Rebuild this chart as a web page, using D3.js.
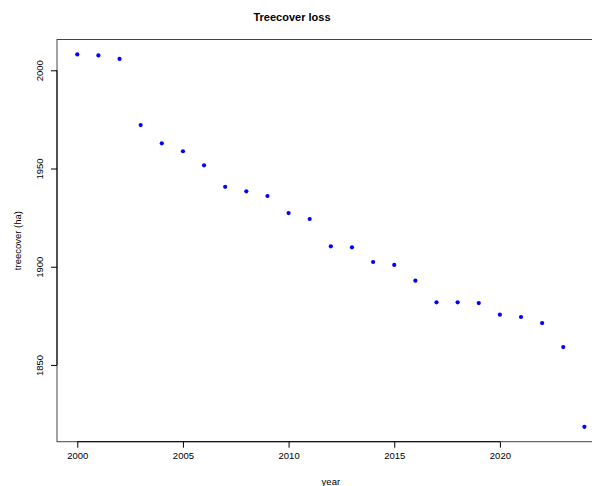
<!DOCTYPE html>
<html>
  <head>
    <meta charset="utf-8">
    <title>Treecover loss</title>
    <script src="https://d3js.org/d3.v7.min.js"></script>
    <style>
      body { margin: 0; background: #fff; }
      svg { display: block; font-family: "Liberation Sans", Arial, sans-serif; }
    </style>
  </head>
  <body>
    <div id="chart"></div>
    <script>
      // data
      var years = [2000, 2001, 2002, 2003, 2004, 2005, 2006, 2007, 2008, 2009, 2010, 2011,
                   2012, 2013, 2014, 2015, 2016, 2017, 2018, 2019, 2020, 2021, 2022, 2023, 2024];
      var treecover = [2008.1, 2007.6, 2005.8, 1972.1, 1962.8, 1958.8, 1951.6, 1940.7, 1938.4, 1936.0,
                       1927.3, 1924.3, 1910.4, 1909.9, 1902.4, 1900.9, 1892.9, 1881.9, 1881.9, 1881.5,
                       1875.6, 1874.4, 1871.3, 1859.1, 1818.5];
      var xTicks = [2000, 2005, 2010, 2015, 2020];
      var yTicks = [1850, 1900, 1950, 2000];

      var width = 592, height = 486;
      // plot region (right edge falls outside the window, as in the reference)
      var plotLeft = 57, plotRight = 604.7, plotTop = 39.5, plotBottom = 441.7;

      // R style 4% padding on each side
      function padded(ext) {
        var d = (ext[1] - ext[0]) * 0.04;
        return [ext[0] - d, ext[1] + d];
      }
      var x = d3.scaleLinear().domain(padded(d3.extent(years))).range([plotLeft, plotRight]);
      var y = d3.scaleLinear().domain(padded(d3.extent(treecover))).range([plotBottom, plotTop]);

      var svg = d3.select("#chart").append("svg")
        .attr("width", width)
        .attr("height", height);

      // box
      svg.append("rect")
        .attr("x", plotLeft).attr("y", plotTop)
        .attr("width", plotRight - plotLeft).attr("height", plotBottom - plotTop)
        .attr("fill", "none")
        .attr("stroke", "#444")
        .attr("stroke-width", 1);

      // x axis
      var xAxis = svg.append("g")
        .attr("transform", "translate(0," + plotBottom + ")")
        .call(d3.axisBottom(x).tickValues(xTicks).tickFormat(d3.format("d"))
          .tickSizeInner(6).tickSizeOuter(0).tickPadding(5));
      xAxis.select(".domain")
        .attr("d", "M" + x(xTicks[0]) + ",0H" + x(xTicks[xTicks.length - 1]))
        .attr("stroke", "#000");
      xAxis.selectAll("text")
        .attr("font-size", "9.5px")
        .attr("fill", "#000")
        .attr("font-family", "Liberation Sans, Arial, sans-serif");

      // y axis, labels rotated
      var yAxis = svg.append("g")
        .attr("transform", "translate(" + plotLeft + ",0)")
        .call(d3.axisLeft(y).tickValues(yTicks).tickFormat(d3.format("d"))
          .tickSizeInner(6).tickSizeOuter(0));
      yAxis.select(".domain")
        .attr("d", "M0," + y(yTicks[0]) + "V" + y(yTicks[yTicks.length - 1]))
        .attr("stroke", "#000");
      yAxis.selectAll("text")
        .attr("font-size", "9.5px")
        .attr("fill", "#000")
        .attr("font-family", "Liberation Sans, Arial, sans-serif")
        .attr("text-anchor", "middle")
        .attr("dy", null)
        .attr("x", null)
        .attr("transform", "translate(-14,0) rotate(-90)")
        .attr("y", 0);

      // points
      svg.append("g")
        .selectAll("circle")
        .data(years)
        .enter().append("circle")
          .attr("cx", function(d) { return x(d); })
          .attr("cy", function(d, i) { return y(treecover[i]); })
          .attr("r", 2.1)
          .attr("fill", "#0000ff");

      // title and axis labels
      svg.append("text")
        .attr("x", 292).attr("y", 21)
        .attr("text-anchor", "middle")
        .attr("font-size", "11px")
        .attr("font-weight", "bold")
        .text("Treecover loss");
      svg.append("text")
        .attr("x", (plotLeft + plotRight) / 2).attr("y", 485)
        .attr("text-anchor", "middle")
        .attr("font-size", "9.5px")
        .text("year");
      svg.append("text")
        .attr("transform", "translate(21," + (plotTop + plotBottom) / 2 + ") rotate(-90)")
        .attr("text-anchor", "middle")
        .attr("font-size", "9.5px")
        .text("treecover (ha)");
    </script>
  </body>
</html>
